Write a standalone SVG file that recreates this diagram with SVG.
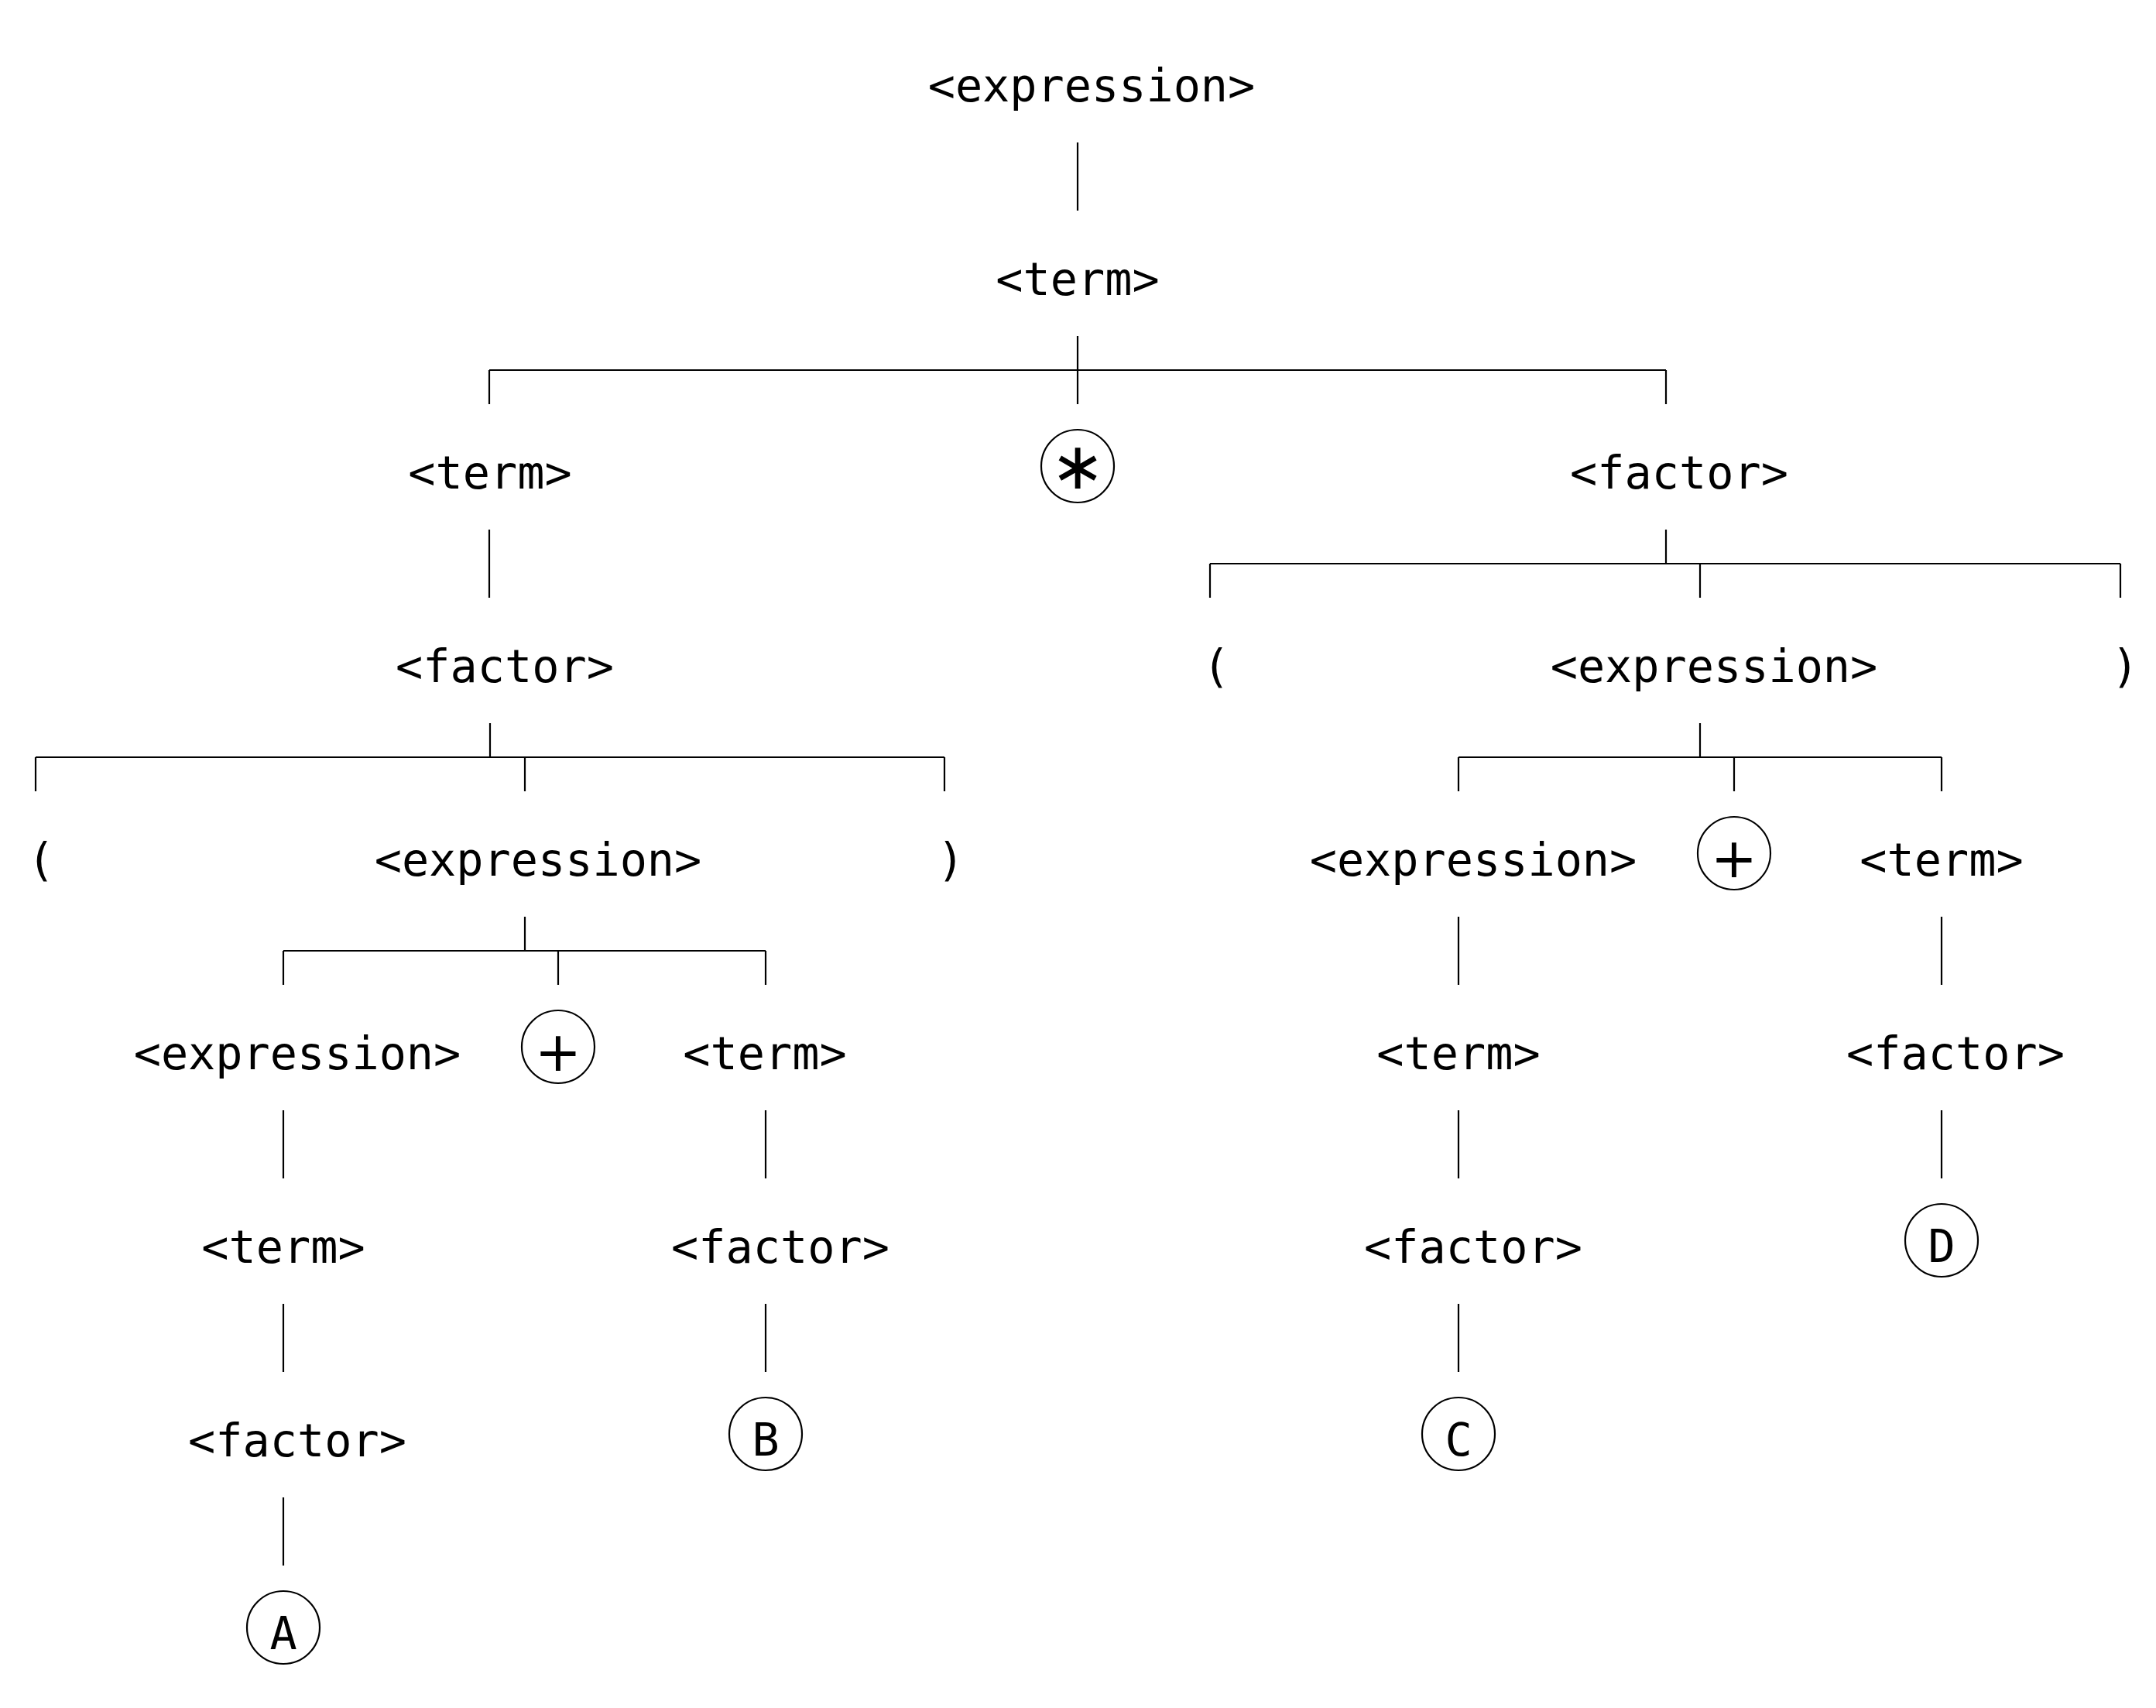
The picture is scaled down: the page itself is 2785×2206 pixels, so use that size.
<svg xmlns="http://www.w3.org/2000/svg" width="2785" height="2206" viewBox="0 0 2785 2206">
<style>
.t{font-family:"DejaVu Sans Mono","Liberation Mono",monospace;font-size:58.5px;fill:#000;text-anchor:middle}
.op{font-family:"DejaVu Sans","Liberation Sans",sans-serif;fill:#000;text-anchor:middle}
.c{fill:none;stroke:#000;stroke-width:2.2}
.e line{stroke:#000;stroke-width:2.2}
</style>
<rect width="2785" height="2206" fill="#fff"/>
<g class="e" id="connectors">
<line x1="1392" y1="184" x2="1392" y2="272"/>
<line x1="1392" y1="434" x2="1392" y2="522"/>
<line x1="632" y1="478" x2="2152" y2="478"/>
<line x1="632" y1="478" x2="632" y2="522"/>
<line x1="2152" y1="478" x2="2152" y2="522"/>
<line x1="632" y1="684" x2="632" y2="772"/>
<line x1="2152" y1="684" x2="2152" y2="728"/>
<line x1="1563" y1="728" x2="2739" y2="728"/>
<line x1="1563" y1="728" x2="1563" y2="772"/>
<line x1="2196" y1="728" x2="2196" y2="772"/>
<line x1="2739" y1="728" x2="2739" y2="772"/>
<line x1="633" y1="934" x2="633" y2="978"/>
<line x1="46" y1="978" x2="1220" y2="978"/>
<line x1="46" y1="978" x2="46" y2="1022"/>
<line x1="678" y1="978" x2="678" y2="1022"/>
<line x1="1220" y1="978" x2="1220" y2="1022"/>
<line x1="2196" y1="934" x2="2196" y2="978"/>
<line x1="1884" y1="978" x2="2508" y2="978"/>
<line x1="1884" y1="978" x2="1884" y2="1022"/>
<line x1="2240" y1="978" x2="2240" y2="1022"/>
<line x1="2508" y1="978" x2="2508" y2="1022"/>
<line x1="678" y1="1184" x2="678" y2="1228"/>
<line x1="366" y1="1228" x2="989" y2="1228"/>
<line x1="366" y1="1228" x2="366" y2="1272"/>
<line x1="721" y1="1228" x2="721" y2="1272"/>
<line x1="989" y1="1228" x2="989" y2="1272"/>
<line x1="1884" y1="1184" x2="1884" y2="1272"/>
<line x1="2508" y1="1184" x2="2508" y2="1272"/>
<line x1="366" y1="1434" x2="366" y2="1522"/>
<line x1="989" y1="1434" x2="989" y2="1522"/>
<line x1="1884" y1="1434" x2="1884" y2="1522"/>
<line x1="2508" y1="1434" x2="2508" y2="1522"/>
<line x1="366" y1="1684" x2="366" y2="1772"/>
<line x1="989" y1="1684" x2="989" y2="1772"/>
<line x1="1884" y1="1684" x2="1884" y2="1772"/>
<line x1="366" y1="1934" x2="366" y2="2022"/>
</g>
<g id="n1"><text class="t" x="1410" y="131">&lt;expression&gt;</text></g>
<g id="n2"><text class="t" x="1392" y="381">&lt;term&gt;</text></g>
<g id="n3"><text class="t" x="633" y="631">&lt;term&gt;</text></g>
<g id="n4"><circle class="c" cx="1392" cy="602" r="47"/><text class="op" x="1392" y="631" font-size="84">∗</text></g>
<g id="n5"><text class="t" x="2169" y="631">&lt;factor&gt;</text></g>
<g id="n6"><text class="t" x="652" y="881">&lt;factor&gt;</text></g>
<g id="n7"><text class="t" x="1571" y="881">(</text></g>
<g id="n8"><text class="t" x="2214" y="881">&lt;expression&gt;</text></g>
<g id="n9"><text class="t" x="2745" y="881">)</text></g>
<g id="n10"><text class="t" x="53" y="1131">(</text></g>
<g id="n11"><text class="t" x="695" y="1131">&lt;expression&gt;</text></g>
<g id="n12"><text class="t" x="1228" y="1131">)</text></g>
<g id="n13"><text class="t" x="1903" y="1131">&lt;expression&gt;</text></g>
<g id="n14"><circle class="c" cx="2240" cy="1102" r="47"/><text class="op" x="2240" y="1133" font-size="72">+</text></g>
<g id="n15"><text class="t" x="2508" y="1131">&lt;term&gt;</text></g>
<g id="n16"><text class="t" x="384" y="1381">&lt;expression&gt;</text></g>
<g id="n17"><circle class="c" cx="721" cy="1352" r="47"/><text class="op" x="721" y="1383" font-size="72">+</text></g>
<g id="n18"><text class="t" x="988" y="1381">&lt;term&gt;</text></g>
<g id="n19"><text class="t" x="1884" y="1381">&lt;term&gt;</text></g>
<g id="n20"><text class="t" x="2526" y="1381">&lt;factor&gt;</text></g>
<g id="n21"><text class="t" x="366" y="1631">&lt;term&gt;</text></g>
<g id="n22"><text class="t" x="1008" y="1631">&lt;factor&gt;</text></g>
<g id="n23"><text class="t" x="1903" y="1631">&lt;factor&gt;</text></g>
<g id="n24"><circle class="c" cx="2508" cy="1602" r="47"/><text class="t" x="2508" y="1630">D</text></g>
<g id="n25"><text class="t" x="384" y="1881">&lt;factor&gt;</text></g>
<g id="n26"><circle class="c" cx="989" cy="1852" r="47"/><text class="t" x="989" y="1880">B</text></g>
<g id="n27"><circle class="c" cx="1884" cy="1852" r="47"/><text class="t" x="1884" y="1880">C</text></g>
<g id="n28"><circle class="c" cx="366" cy="2102" r="47"/><text class="t" x="366" y="2130">A</text></g>
</svg>
